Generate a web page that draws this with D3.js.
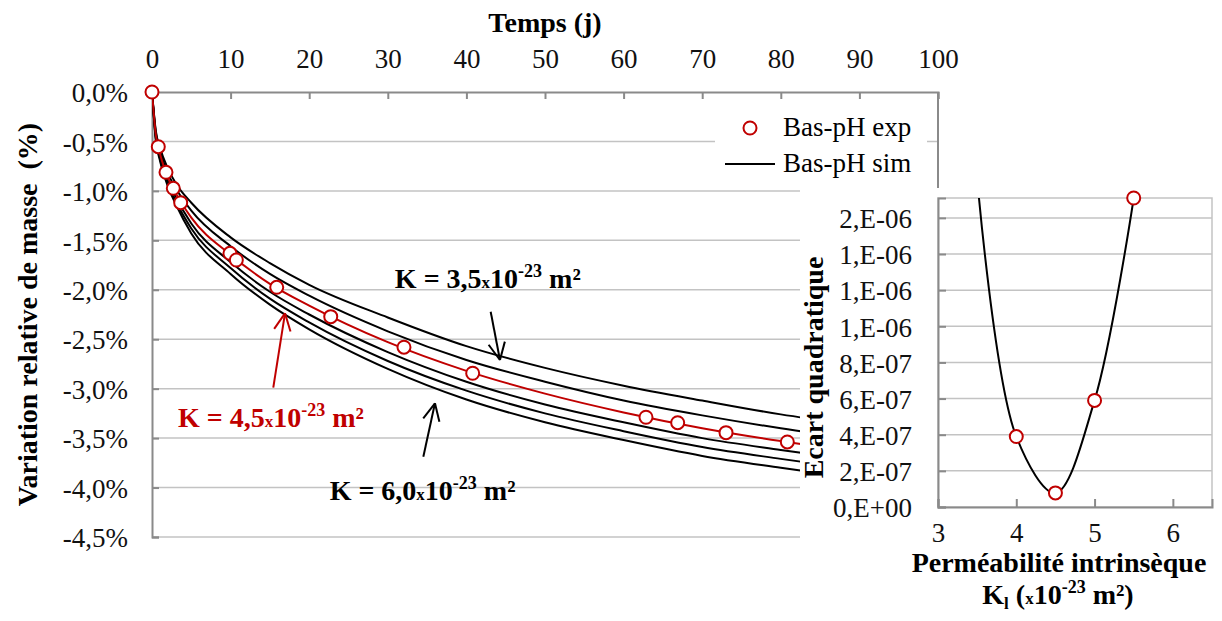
<!DOCTYPE html>
<html><head><meta charset="utf-8">
<script src="https://cdn.jsdelivr.net/npm/d3@7"></script>
<style>
html,body{margin:0;padding:0;background:#fff;}
svg, svg text{font-family:"Liberation Serif","Times New Roman","DejaVu Serif","Noto Serif",serif !important;}
</style></head>
<body><svg id="c" width="1222" height="621"></svg>
<script>
// ---------- DATA ----------
const xTicks = [0,10,20,30,40,50,60,70,80,90,100];
const yTicks = [0,-0.5,-1.0,-1.5,-2.0,-2.5,-3.0,-3.5,-4.0,-4.5];
const simDays = [0,0.5,1,2,3,5,10,15,20,30,40,50,60,70,80,90,100];
const simK35 = [0,-0.40,-0.56,-0.77,-0.92,-1.12,-1.47,-1.73,-1.95,-2.28,-2.57,-2.79,-2.97,-3.12,-3.26,-3.37,-3.47];
const simK40 = [0,-0.42,-0.59,-0.82,-0.97,-1.20,-1.56,-1.84,-2.06,-2.42,-2.71,-2.93,-3.12,-3.27,-3.40,-3.51,-3.61];
const simK45 = [0,-0.44,-0.62,-0.86,-1.02,-1.27,-1.645,-1.94,-2.16,-2.53,-2.82,-3.05,-3.24,-3.40,-3.53,-3.64,-3.74];
const simK50 = [0,-0.46,-0.65,-0.89,-1.06,-1.33,-1.72,-2.02,-2.25,-2.63,-2.93,-3.16,-3.34,-3.50,-3.62,-3.73,-3.83];
const simK55 = [0,-0.48,-0.67,-0.92,-1.10,-1.38,-1.78,-2.09,-2.33,-2.72,-3.02,-3.25,-3.43,-3.59,-3.71,-3.82,-3.92];
const simK60 = [0,-0.50,-0.69,-0.95,-1.13,-1.43,-1.84,-2.15,-2.40,-2.80,-3.11,-3.34,-3.52,-3.68,-3.80,-3.91,-4.01];
const expDays = [0,0.80,1.78,2.71,3.65,9.92,10.73,15.87,22.74,32.06,40.80,62.85,66.88,73.03,80.83];
const expVals = [0,-0.553,-0.812,-0.974,-1.119,-1.631,-1.699,-1.975,-2.272,-2.581,-2.844,-3.289,-3.344,-3.445,-3.539];
const inK = [3.5,4.0,4.5,5.0,5.5];
const inErr = [1.82e-6,3.9e-7,7.8e-8,5.9e-7,1.71e-6];
const inXTicks = [3,4,5,6];
const inYTicks = [0,2e-7,4e-7,6e-7,8e-7,1.0e-6,1.2e-6,1.4e-6,1.6e-6];
const legendLabels = ["Bas-pH exp","Bas-pH sim"];

// ---------- SETUP ----------
const FONT = "Liberation Serif, Times New Roman, DejaVu Serif, Noto Serif, serif";
const svg = d3.select("#c").attr("font-family",FONT);
const RED = "#c00000", GRID = "#c3c3c3", AXIS = "#8a8a8a";
const FS = 27, FT = 28;

const x = d3.scaleLinear().domain([0,100]).range([152,938]);
const y = d3.scaleLinear().domain([0,-4.5]).range([92,537]);

svg.append("defs").append("clipPath").attr("id","mainclip")
  .append("rect").attr("x",152).attr("y",80).attr("width",786).attr("height",460);

// gridlines
svg.append("g").selectAll("line").data(yTicks.slice(1)).join("line")
  .attr("x1",x(0)).attr("x2",x(100)).attr("y1",d=>y(d)).attr("y2",d=>y(d))
  .attr("stroke",GRID).attr("stroke-width",1.5);

// top axis
const xAxis = d3.axisTop(x).tickValues(xTicks).tickSize(-7).tickPadding(24).tickFormat(d3.format("d"));
const gx = svg.append("g").attr("transform",`translate(0,${y(0)})`).call(xAxis).attr("font-family",FONT);
gx.select(".domain").attr("stroke",AXIS).attr("stroke-width",2);
gx.selectAll(".tick line").attr("stroke",AXIS).attr("stroke-width",2);
gx.selectAll(".tick text").attr("font-size",FS).attr("fill","#111");

// left axis
const yAxis = d3.axisLeft(y).tickValues(yTicks).tickSize(-7).tickPadding(24)
  .tickFormat(d=>(Math.abs(d)<1e-9?"0,0":d.toFixed(1).replace(".",","))+"%");
const gy = svg.append("g").attr("transform",`translate(${x(0)},0)`).call(yAxis).attr("font-family",FONT);
gy.select(".domain").attr("stroke",AXIS).attr("stroke-width",2);
gy.selectAll(".tick line").attr("stroke",AXIS).attr("stroke-width",2);
gy.selectAll(".tick text").attr("font-size",FS).attr("fill","#111").attr("dy","0.36em");

// right border of main plot
svg.append("line").attr("x1",x(100)).attr("x2",x(100)).attr("y1",y(0)).attr("y2",y(-4.5))
  .attr("stroke",AXIS).attr("stroke-width",2);

// axis titles
svg.append("text").attr("x",(x(0)+x(100))/2).attr("y",32).attr("text-anchor","middle")
  .attr("font-size",FT).attr("font-weight","bold").text("Temps (j)");
svg.append("text").attr("transform",`translate(37,${(y(0)+y(-4.5))/2}) rotate(-90)`).attr("text-anchor","middle")
  .attr("font-size",FT).attr("font-weight","bold").attr("xml:space","preserve").text("Variation relative de masse  (%)");

// simulated curves
const sims = [
  {vals:simK35,color:"#000"},{vals:simK40,color:"#000"},{vals:simK50,color:"#000"},
  {vals:simK55,color:"#000"},{vals:simK60,color:"#000"},{vals:simK45,color:RED}];
const line = d3.line().x(d=>x(d[0])).y(d=>y(d[1])).curve(d3.curveMonotoneX);
const gs = svg.append("g").attr("clip-path","url(#mainclip)");
gs.selectAll("path").data(sims).join("path")
  .attr("d",s=>line(simDays.map((t,i)=>[t,s.vals[i]])))
  .attr("fill","none").attr("stroke",s=>s.color).attr("stroke-width",2);

// experimental points
svg.append("g").selectAll("circle").data(expDays.map((t,i)=>[t,expVals[i]])).join("circle")
  .attr("cx",d=>x(d[0])).attr("cy",d=>y(d[1])).attr("r",6.5)
  .attr("fill","#fff").attr("stroke",RED).attr("stroke-width",2);

// annotations: arrows in data coords
function arrow(g, t0,v0,t1,v1,color){
  const X0=x(t0),Y0=y(v0),X1=x(t1),Y1=y(v1);
  g.append("line").attr("x1",X0).attr("y1",Y0).attr("x2",X1).attr("y2",Y1).attr("stroke",color).attr("stroke-width",2);
  const a=Math.atan2(Y1-Y0,X1-X0), L=19, h=0.45;
  [a+Math.PI-h,a+Math.PI+h].forEach(b=>{
    g.append("line").attr("x1",X1).attr("y1",Y1).attr("x2",X1+L*Math.cos(b)).attr("y2",Y1+L*Math.sin(b))
      .attr("stroke",color).attr("stroke-width",2);
  });
}
const ga = svg.append("g");
arrow(ga,43.09,-2.222,44.27,-2.710,"#000");
arrow(ga,15.43,-2.990,16.92,-2.238,RED);
arrow(ga,34.52,-3.688,36.0,-3.148,"#000");

function kLabel(g,t,v,val,color){
  const tx=g.append("text").attr("x",x(t)).attr("y",y(v)).attr("font-size",FT).attr("font-weight","bold").attr("fill",color);
  tx.append("tspan").text("K = "+val);
  tx.append("tspan").attr("font-size",17).text("x");
  tx.append("tspan").text("10");
  tx.append("tspan").attr("font-size",18).attr("dy",-11).text("-23");
  tx.append("tspan").attr("dy",11).text(" m²");
}
kLabel(ga,30.9,-1.98,"3,5","#000");
kLabel(ga,3.3,-3.39,"4,5",RED);
kLabel(ga,22.6,-4.125,"6,0","#000");

// legend
const lg = svg.append("g");
lg.append("rect").attr("x",715).attr("y",101).attr("width",212).attr("height",84).attr("fill","#fff");
lg.append("circle").attr("cx",750).attr("cy",128).attr("r",6.5).attr("fill","#fff").attr("stroke",RED).attr("stroke-width",2);
lg.append("line").attr("x1",725).attr("x2",775).attr("y1",164).attr("y2",164).attr("stroke","#000").attr("stroke-width",2);
lg.selectAll("text").data(legendLabels).join("text")
  .attr("x",783).attr("y",(d,i)=>136+i*36).attr("font-size",FS).text(d=>d);

// ---------- INSET ----------
const ig = svg.append("g");
ig.append("rect").attr("x",800).attr("y",188).attr("width",422).attr("height",433).attr("fill","#fff");
const ix = d3.scaleLinear().domain([3,6.5]).range([938,1212]);
const iy = d3.scaleLinear().domain([0,1.71e-6]).range([507,198]);
svg.select("defs").append("clipPath").attr("id","inclip")
  .append("rect").attr("x",938).attr("y",198).attr("width",274).attr("height",309);

ig.append("g").selectAll("line").data(inYTicks.slice(1)).join("line")
  .attr("x1",ix(3)).attr("x2",ix(6.5)).attr("y1",d=>iy(d)).attr("y2",d=>iy(d))
  .attr("stroke",GRID).attr("stroke-width",1.5);
// border
ig.append("rect").attr("x",ix(3)).attr("y",iy(1.71e-6)).attr("width",ix(6.5)-ix(3)).attr("height",iy(0)-iy(1.71e-6))
  .attr("fill","none").attr("stroke",GRID).attr("stroke-width",1.5);

function fmtE(v){
  if (v===0) return "0,E+00";
  let e=Math.floor(Math.log10(v)+1e-9); let m=Math.round(v/Math.pow(10,e));
  if (m>=10){m=1;e+=1;}
  return m+",E-"+String(-e).padStart(2,"0");
}
const ixAxis = d3.axisBottom(ix).tickValues(inXTicks).tickSize(-8).tickPadding(16).tickFormat(d3.format("d"));
const gix = ig.append("g").attr("transform",`translate(0,${iy(0)})`).call(ixAxis).attr("font-family",FONT);
gix.select(".domain").attr("stroke",AXIS).attr("stroke-width",2);
gix.selectAll(".tick line").attr("stroke",AXIS).attr("stroke-width",2);
gix.selectAll(".tick text").attr("font-size",FS).attr("fill","#111");

const iyAxis = d3.axisLeft(iy).tickValues(inYTicks).tickSize(-8).tickPadding(26).tickFormat(fmtE);
const giy = ig.append("g").attr("transform",`translate(${ix(3)},0)`).call(iyAxis).attr("font-family",FONT);
giy.select(".domain").attr("stroke",AXIS).attr("stroke-width",2);
giy.selectAll(".tick line").attr("stroke",AXIS).attr("stroke-width",2);
giy.selectAll(".tick text").attr("font-size",FS).attr("fill","#111").attr("dy","0.36em");

const iline = d3.line().x(d=>ix(d[0])).y(d=>iy(d[1])).curve(d3.curveCatmullRom.alpha(0.5));
const ipts = inK.map((k,i)=>[k,inErr[i]]);
ig.append("path").attr("clip-path","url(#inclip)").attr("d",iline(ipts))
  .attr("fill","none").attr("stroke","#000").attr("stroke-width",2);
ig.append("g").selectAll("circle").data(ipts.filter(d=>d[1]<=1.75e-6)).join("circle")
  .attr("cx",d=>ix(d[0])).attr("cy",d=>iy(d[1])).attr("r",6.5)
  .attr("fill","#fff").attr("stroke",RED).attr("stroke-width",2);

ig.append("text").attr("transform",`translate(823,${(iy(0)+iy(1.71e-6))/2+15}) rotate(-90)`).attr("text-anchor","middle")
  .attr("font-size",FT).attr("font-weight","bold").text("Ecart quadratique");
ig.append("text").attr("x",1059).attr("y",572).attr("text-anchor","middle")
  .attr("font-size",FT).attr("font-weight","bold").text("Perméabilité intrinsèque");
const t2 = ig.append("text").attr("x",1058).attr("y",604).attr("text-anchor","middle").attr("font-size",FT).attr("font-weight","bold");
t2.append("tspan").text("K");
t2.append("tspan").attr("font-size",17).attr("dy",5).text("l");
t2.append("tspan").attr("dy",-5).text(" (");
t2.append("tspan").attr("font-size",17).text("x");
t2.append("tspan").text("10");
t2.append("tspan").attr("font-size",18).attr("dy",-11).text("-23");
t2.append("tspan").attr("dy",11).text(" m²)");
</script></body></html>
